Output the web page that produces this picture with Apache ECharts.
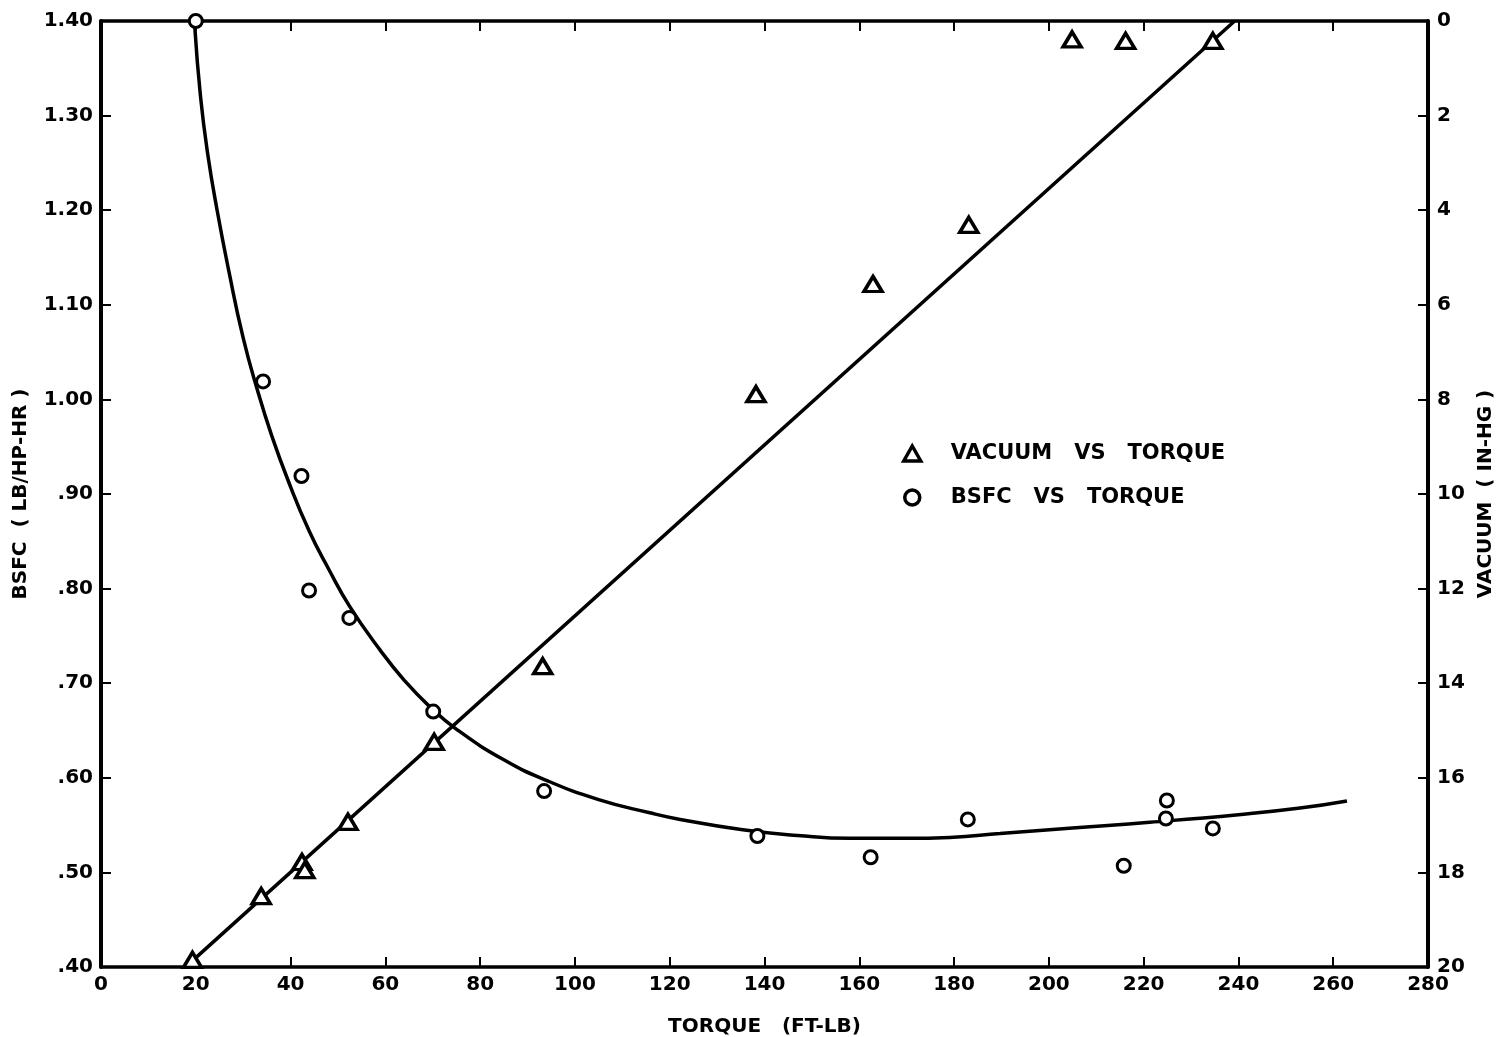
<!DOCTYPE html>
<html>
<head>
<meta charset="utf-8">
<script src="https://cdn.jsdelivr.net/npm/echarts@6/dist/echarts.min.js"></script>
<style>
  html, body { margin: 0; padding: 0; background: #fff; }
  #chart { width: 1498px; height: 1037px; }
</style>
</head>
<body>
<div id="chart"></div>
<script>
// Measured points: vacuum (in-Hg) against torque (ft-lb)
const vacTorque = [19.3, 33.8, 42.4, 43.0, 52.1, 70.3, 93.2, 138.2, 162.9, 183.1, 204.9, 216.2, 234.6];
const vacuum    = [19.85, 18.5, 17.78, 17.95, 16.93, 15.24, 13.64, 7.89, 5.56, 4.31, 0.39, 0.42, 0.42];

// Measured points: BSFC (lb/hp-hr) against torque (ft-lb)
const bsfcTorque = [20.0, 34.2, 42.3, 43.9, 52.4, 70.1, 93.5, 138.5, 162.4, 182.9, 215.8, 224.9, 224.7, 234.6];
const bsfc       = [1.40, 1.019, 0.919, 0.798, 0.769, 0.670, 0.586, 0.5385, 0.516, 0.556, 0.507, 0.576, 0.557, 0.5465];

// Faired curves drawn through the measurements
const vacFitTorque = [19.5, 239.2];
const vacFit       = [19.85, 0];
const bsfcFitTorque = [19.8, 21.0, 22.5, 24.5, 27.0, 30.0, 33.0, 36.0, 39.5, 44.0, 48.0, 52.5, 58.9, 64.0, 69.4, 75.1, 85.0, 94.1, 105.0, 115.8, 122.2, 135.4, 147.0, 158.0, 170.0, 179.1, 189.7, 205.0, 221.3, 240.0, 253.0, 262.9];
const bsfcFit       = [1.393, 1.32, 1.26, 1.20, 1.135, 1.065, 1.01, 0.962, 0.914, 0.860, 0.821, 0.781, 0.735, 0.703, 0.675, 0.651, 0.619, 0.597, 0.577, 0.563, 0.556, 0.545, 0.539, 0.536, 0.536, 0.537, 0.541, 0.547, 0.553, 0.561, 0.568, 0.5755];

// Axis tick labels
const torqueTicks = ['0','20','40','60','80','100','120','140','160','180','200','220','240','260','280'];
const bsfcTicks   = ['.40','.50','.60','.70','.80','.90','1.00','1.10','1.20','1.30','1.40'];
const vacTicks    = ['0','2','4','6','8','10','12','14','16','18','20'];

const VAC_NAME  = 'VACUUM   VS   TORQUE';
const BSFC_NAME = 'BSFC   VS   TORQUE';

const FONT = 'DejaVu Sans';
const INK = '#000';

const pairs = (xs, ys) => xs.map((x, i) => [x, ys[i]]);

const tickStyle = { show: true, inside: true, length: 10, lineStyle: { color: INK, width: 2 } };
const lineStyle = { color: INK, width: 3.5 };
const labelStyle = { color: INK, fontFamily: FONT, fontWeight: 'bold', fontSize: 20 };
const nameStyle = { color: INK, fontFamily: FONT, fontWeight: 'bold', fontSize: 20 };

const chart = echarts.init(document.getElementById('chart'), null, { renderer: 'canvas' });

chart.setOption({
  backgroundColor: '#fff',
  animation: false,
  grid: { left: 101, right: 70, top: 21, bottom: 70, containLabel: false, outerBoundsMode: 'none' },
  legend: {
    data: [VAC_NAME, BSFC_NAME],
    orient: 'vertical',
    left: 897,
    top: 438,
    itemWidth: 17,
    itemHeight: 15,
    itemGap: 23,
    itemStyle: { borderWidth: 3.5 },
    textStyle: { color: INK, fontFamily: FONT, fontWeight: 'bold', fontSize: 21, padding: [0, 0, 0, 25] },
    selectedMode: false
  },
  xAxis: [
    {
      type: 'value', position: 'bottom', min: 0, max: 280, interval: 20,
      name: 'TORQUE   (FT-LB)', nameLocation: 'middle', nameGap: 50, nameTextStyle: nameStyle,
      axisLine: { show: true, onZero: false, lineStyle },
      axisTick: tickStyle,
      axisLabel: Object.assign({ margin: 8, formatter: (v) => torqueTicks[Math.round(v / 20)] }, labelStyle),
      splitLine: { show: false }
    },
    {
      type: 'value', position: 'top', min: 0, max: 280, interval: 20,
      axisLine: { show: true, onZero: false, lineStyle },
      axisTick: tickStyle,
      axisLabel: { show: false },
      splitLine: { show: false }
    }
  ],
  yAxis: [
    {
      type: 'value', position: 'left', min: 0.4, max: 1.4, interval: 0.1,
      name: 'BSFC  ( LB/HP-HR )', nameLocation: 'middle', nameGap: 70, nameRotate: 90, nameTextStyle: nameStyle,
      axisLine: { show: true, onZero: false, lineStyle: { color: INK, width: 4 } },
      axisTick: tickStyle,
      axisLabel: Object.assign({ margin: 8, formatter: (v) => bsfcTicks[Math.round((v - 0.4) * 10)] }, labelStyle),
      splitLine: { show: false }
    },
    {
      type: 'value', position: 'right', min: 0, max: 20, interval: 2, inverse: true,
      name: 'VACUUM  ( IN-HG )', nameLocation: 'middle', nameGap: 43, nameRotate: 90, nameTextStyle: nameStyle,
      axisLine: { show: true, onZero: false, lineStyle: { color: INK, width: 4 } },
      axisTick: tickStyle,
      axisLabel: Object.assign({ margin: 9, formatter: (v) => vacTicks[Math.round(v / 2)] }, labelStyle),
      splitLine: { show: false }
    }
  ],
  series: [
    {
      name: 'bsfc-fit', type: 'line', xAxisIndex: 0, yAxisIndex: 0,
      data: pairs(bsfcFitTorque, bsfcFit),
      smooth: 0.5, showSymbol: false, silent: true, z: 2,
      lineStyle: { color: INK, width: 3.5 }
    },
    {
      name: 'vacuum-fit', type: 'line', xAxisIndex: 0, yAxisIndex: 1,
      data: pairs(vacFitTorque, vacFit),
      showSymbol: false, silent: true, z: 2,
      lineStyle: { color: INK, width: 3.5 }
    },
    {
      name: VAC_NAME, type: 'scatter', xAxisIndex: 0, yAxisIndex: 1,
      data: pairs(vacTorque, vacuum),
      symbol: 'triangle', symbolSize: [18, 15], z: 5,
      itemStyle: { color: '#fff', borderColor: INK, borderWidth: 3.5, opacity: 1 }
    },
    {
      name: BSFC_NAME, type: 'scatter', xAxisIndex: 0, yAxisIndex: 0,
      data: pairs(bsfcTorque, bsfc),
      symbol: 'circle', symbolSize: 13, z: 5,
      itemStyle: { color: '#fff', borderColor: INK, borderWidth: 3, opacity: 1 }
    }
  ]
});
</script>
</body>
</html>
